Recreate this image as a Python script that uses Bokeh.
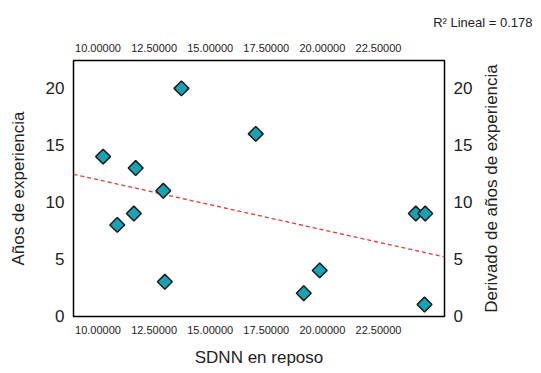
import math
import numpy as np
from bokeh.plotting import figure
from bokeh.models import LinearAxis, FixedTicker, Range1d, ColumnDataSource, Title, Label
from bokeh.embed import file_html
from bokeh.resources import INLINE

# ---- data ----
sdnn = [10.23, 10.86, 11.60, 11.68, 12.91, 12.98, 13.72, 17.03, 19.17, 19.88, 24.16, 24.58, 24.55]
anos = [14, 8, 9, 13, 11, 3, 20, 16, 2, 4, 9, 9, 1]
x_ticks = [10.0, 12.5, 15.0, 17.5, 20.0, 22.5]
x_tick_labels = ["10.00000", "12.50000", "15.00000", "17.50000", "20.00000", "22.50000"]
y_ticks = [0, 5, 10, 15, 20]
r2_text = "R\u00b2 Lineal = 0.178"
x_title = "SDNN en reposo"
y_title = "Años de experiencia"
y2_title = "Derivado de años de experiencia"

FONT = "Liberation Sans"
X0, X1 = 8.91, 25.44
Y0, Y1 = -0.05, 22.45

W, H = 538, 370
BL, BT, FW, FH = 73, 60, 371, 256

p = figure(width=W, height=H, output_backend="svg", toolbar_location=None,
           x_range=Range1d(X0, X1), y_range=Range1d(Y0, Y1),
           x_axis_location=None, y_axis_location=None)
p.min_border_left = BL
p.min_border_right = W - BL - FW
p.min_border_top = BT
p.min_border_bottom = H - BT - FH
p.grid.visible = False
p.outline_line_color = "black"
p.outline_line_width = 1.5
p.background_fill_color = "white"
p.border_fill_color = "white"

bottom_axis = LinearAxis()
top_axis = LinearAxis()
left_axis = LinearAxis()
right_axis = LinearAxis()
p.add_layout(bottom_axis, "below")
p.add_layout(top_axis, "above")
p.add_layout(left_axis, "left")
p.add_layout(right_axis, "right")

labels_map = {t: l for t, l in zip(x_ticks, x_tick_labels)}
for ax in [bottom_axis, top_axis]:
    ax.ticker = FixedTicker(ticks=x_ticks)
    ax.major_label_overrides = labels_map
    ax.major_label_text_font = FONT
    ax.major_label_text_font_size = "11px"
    ax.major_label_text_color = "#222222"
    ax.major_label_standoff = 9

for ax in [left_axis, right_axis]:
    ax.ticker = FixedTicker(ticks=y_ticks)
    ax.major_label_text_font = FONT
    ax.major_label_text_font_size = "17px"
    ax.major_label_text_color = "#222222"
    ax.major_label_standoff = 9

for ax in [bottom_axis, top_axis, left_axis, right_axis]:
    ax.axis_line_color = None
    ax.major_tick_line_color = None
    ax.minor_tick_line_color = None
    ax.major_tick_out = 0
    ax.major_tick_in = 0
    ax.axis_label_text_font = FONT
    ax.axis_label_text_font_style = "normal"
    ax.axis_label_text_font_size = "17px"
    ax.axis_label_text_color = "#222222"

bottom_axis.axis_label = x_title
bottom_axis.axis_label_standoff = 11
left_axis.axis_label = y_title
left_axis.axis_label_standoff = 15

# regression line
slope, intercept = np.polyfit(np.array(sdnn), np.array(anos), 1)
lx = [X0, X1]
ly = [intercept + slope * X0, intercept + slope * X1]
p.line(lx, ly, line_color="#e3383a", line_width=1.3, line_dash="4 3")

src = ColumnDataSource(dict(x=sdnn, y=anos))
p.scatter("x", "y", source=src, marker="square", size=10.5, angle=math.pi / 4,
          fill_color="#17a3b5", line_color="#1a1a1a", line_width=1.5)

# right-side title (reads bottom-to-top), placed in the right side panel
p.add_layout(Label(x=BL + FW + 47, y=BT + FH / 2, x_units="canvas", y_units="canvas",
                   text=y2_title, angle=math.pi / 2,
                   text_font=FONT, text_font_size="17px", text_color="#222222",
                   text_align="center", text_baseline="middle"), "right")

# R^2 annotation, top right
p.add_layout(Title(text=r2_text, align="right", offset=-(W - BL - FW - 6),
                   text_font=FONT, text_font_size="13px", text_font_style="normal",
                   text_color="#222222", standoff=22), "above")

open("out.html", "w").write(file_html(p, INLINE))
